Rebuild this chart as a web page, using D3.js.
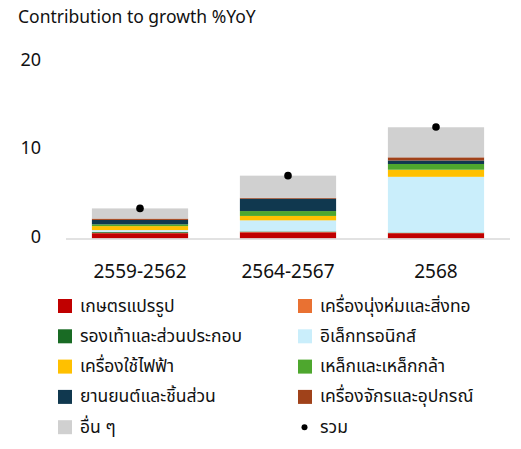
<!DOCTYPE html>
<html>
<head>
<meta charset="utf-8">
<script src="https://cdn.jsdelivr.net/npm/d3@7"></script>
<style>
  html, body { margin: 0; padding: 0; background: #fff; }
  svg text { font-family: "Noto Sans Thai", "Noto Sans", "DejaVu Sans", sans-serif; fill: #111; }
</style>
</head>
<body>
<svg id="chart" width="521" height="449"></svg>
<script>
const categories = ["2559-2562", "2564-2567", "2568"];
const seriesNames = [
  "เกษตรแปรรูป", "เครื่องนุ่งห่มและสิ่งทอ", "รองเท้าและส่วนประกอบ",
  "อิเล็กทรอนิกส์", "เครื่องใช้ไฟฟ้า", "เหล็กและเหล็กกล้า",
  "ยานยนต์และชิ้นส่วน", "เครื่องจักรและอุปกรณ์", "อื่น ๆ"
];
const agro        = [0.6, 0.7, 0.6];
const apparel     = [0.05, 0.05, 0.02];
const footwear    = [0.1, 0.05, 0.05];
const electronics = [0.2, 1.25, 6.3];
const appliances  = [0.45, 0.5, 0.8];
const steel       = [0.2, 0.55, 0.65];
const autos       = [0.5, 1.4, 0.4];
const machinery   = [0.15, 0.1, 0.35];
const others      = [1.15, 2.5, 3.4];
const total       = [3.4, 7.1, 12.6];
const totalName = "รวม";
const yTicks = [0, 10, 20];
const colors = ["#C00000", "#E97132", "#196B24", "#CAEEFB", "#FFC000", "#4EA72E", "#10384F", "#A0421A", "#D0D0D0"];

const seriesValues = [agro, apparel, footwear, electronics, appliances, steel, autos, machinery, others];
const table = categories.map((c, i) => {
  const row = { cat: c };
  seriesNames.forEach((n, k) => row[n] = seriesValues[k][i]);
  return row;
});

const svg = d3.select("#chart");
const x = d3.scaleBand().domain(categories).range([66, 510]).paddingInner(0.35).paddingOuter(0.175);
const y = d3.scaleLinear().domain([0, 20]).range([238.5, 61.5]);

// title
svg.append("text").attr("x", 18).attr("y", 23).attr("font-size", 17.5).text("Contribution to growth %YoY");

// y tick labels
svg.append("g").selectAll("text").data(yTicks).join("text")
  .attr("x", 41).attr("y", d => y(d) - 1.5)
  .attr("text-anchor", "end").attr("dominant-baseline", "central")
  .attr("font-size", 18).text(d => d);

// stacked bars
const stack = d3.stack().keys(seriesNames)(table);
svg.append("g").selectAll("g").data(stack).join("g")
  .attr("fill", (d, i) => colors[i])
  .selectAll("rect").data(d => d).join("rect")
  .attr("x", d => x(d.data.cat))
  .attr("width", x.bandwidth())
  .attr("y", d => y(d[1]))
  .attr("height", d => Math.max(0, y(d[0]) - y(d[1])));

// axis line
svg.append("line").attr("x1", 66).attr("x2", 510).attr("y1", y(0) + 0.5).attr("y2", y(0) + 0.5)
  .attr("stroke", "#D9D9D9").attr("stroke-width", 1.5);

// total dots
svg.append("g").selectAll("circle").data(total).join("circle")
  .attr("cx", (d, i) => x(categories[i]) + x.bandwidth() / 2)
  .attr("cy", d => y(d))
  .attr("r", 3.8).attr("fill", "#000");

// x labels
svg.append("g").selectAll("text").data(categories).join("text")
  .attr("x", d => x(d) + x.bandwidth() / 2).attr("y", 278)
  .attr("text-anchor", "middle").attr("font-size", 19).text(d => d);

// legend
const legItems = seriesNames.map((n, i) => ({ name: n, color: colors[i], type: "rect" }));
legItems.push({ name: totalName, color: "#000", type: "dot" });
const leg = svg.append("g").selectAll("g").data(legItems).join("g")
  .attr("transform", (d, i) => `translate(${i % 2 === 0 ? 58 : 298},${306 + Math.floor(i / 2) * 30.3})`);
leg.filter(d => d.type === "rect").append("rect")
  .attr("x", 0).attr("y", -7).attr("width", 14).attr("height", 14).attr("fill", d => d.color);
leg.filter(d => d.type === "dot").append("circle")
  .attr("cx", 6.5).attr("cy", 0).attr("r", 3).attr("fill", "#000");
leg.append("text").attr("x", 22).attr("y", 0).attr("dominant-baseline", "central")
  .attr("font-size", 17.5).text(d => d.name);
</script>
</body>
</html>
